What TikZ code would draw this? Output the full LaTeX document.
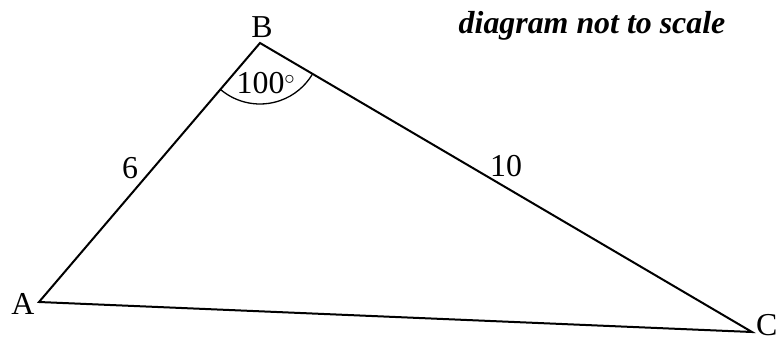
\documentclass[tikz,border=0pt]{standalone}
\usepackage{fontspec}
\setmainfont{Liberation Serif}
\usetikzlibrary{angles}

\begin{document}
\begin{tikzpicture}[x=1bp, y=1bp, font=\fontsize{32}{36}\selectfont,
    lab/.style={anchor=base, inner sep=0pt}]
    \useasboundingbox (0,0) rectangle (781,342);

    \coordinate (A) at (39,40);
    \coordinate (B) at (260,299);
    \coordinate (C) at (752,10);

    \draw[line width=2bp, line join=miter] (A) -- (B) -- (C) -- cycle;
    \pic[draw, line width=1.3bp, angle radius=61bp] {angle = A--B--C};

    \node[lab] (labA) at (23,28) {A};
    \node[lab] (labB) at (262,305) {B};
    \node[lab, anchor=base west] (labC) at (756,7) {C};
    \node[lab] (labAB) at (130,164) {6};
    \node[lab] (labBC) at (506,166) {10};
    \node[lab] (labAng) at (266,249) {100$^\circ$};

    \node[lab] (note) at (592,309) {\bfseries\itshape diagram not to scale};
\end{tikzpicture}
\end{document}
